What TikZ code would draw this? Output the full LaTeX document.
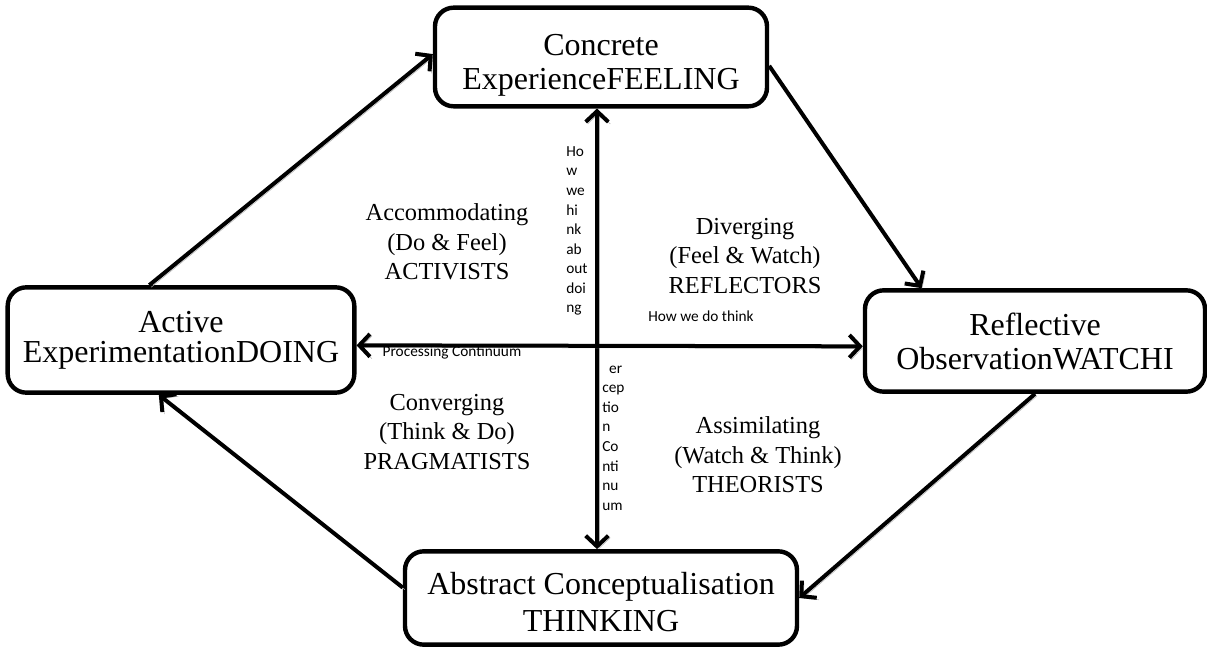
\documentclass[tikz,border=0pt]{standalone}
\usepackage{fontspec}
\setmainfont{Liberation Serif}
\newfontfamily\calfont{Carlito}
\usetikzlibrary{arrows.meta}

% box text: #1 lowering, #2 line spacing, #3 lines
\newcommand{\stagetext}[3]{\raisebox{-#1}[\height][\depth]{\fontsize{24}{#2}\selectfont\begin{tabular}{@{}c@{}}#3\end{tabular}}}

\tikzset{
  barb/.tip={Straight Barb[length=8pt,width=17pt,line width=3pt]},
  shady/.style={preaction={draw=gray!60, transform canvas={shift={(1.5pt,-1.5pt)}}}},
  stagebox/.style={draw, line width=3.3pt, rounded corners=14pt, inner sep=0pt},
  cyclearrow/.style={shady, line width=3pt, -barb},
  axisarrow/.style={shady, line width=3pt, barb-barb},
  stylelabel/.style={align=center, font=\fontsize{18.3}{22.2}\selectfont},
  smalltext/.style={font=\calfont\fontsize{11.5}{14.7}\selectfont, inner sep=0pt}
}

\begin{document}
\begin{tikzpicture}[x=0.75pt,y=0.75pt,yscale=-1]
\useasboundingbox (0,0) rectangle (1207,648);

% Stage boxes
\node [stagebox, minimum width=249pt, minimum height=74pt] (conc) at (601,57) {\stagetext{6.4pt}{26pt}{Concrete\\ExperienceFEELING}};
\node [stagebox, minimum width=260pt, minimum height=79pt] (act) at (181,340) {\stagetext{1.3pt}{22pt}{Active\\ExperimentationDOING}};
\node [stagebox, minimum width=255pt, minimum height=76pt] (refl) at (1035,341) {\stagetext{3.4pt}{26pt}{Reflective\\ObservationWATCHI}};
\node [stagebox, minimum width=294pt, minimum height=70pt] (abst) at (601,598) {\stagetext{6pt}{27.8pt}{Abstract Conceptualisation\\THINKING}};

% Cycle arrows
\draw [cyclearrow] (act.120) -- (conc.179);
\draw [cyclearrow] (conc.-3) -- (refl.155);
\draw [cyclearrow] (refl.south) -- (abst.east);
\draw [cyclearrow] (abst.177) -- (act.-112);

% Continuum axes
\draw [axisarrow] ([xshift=-3pt]conc.south) -- ([xshift=-3pt]abst.north);
\draw [axisarrow] ([yshift=4pt]act.east) -- ([yshift=4pt]refl.west);

% Learning style labels
\node [stylelabel] (accom) at (447,242) {Accommodating\\(Do \& Feel)\\ACTIVISTS};
\node [stylelabel] (diver) at (745,256) {Diverging\\(Feel \& Watch)\\REFLECTORS};
\node [stylelabel] (conv) at (447,432) {Converging\\(Think \& Do)\\PRAGMATISTS};
\node [stylelabel] (assim) at (758,455) {Assimilating\\(Watch \& Think)\\THEORISTS};

% Small text
\node [smalltext] (dothink) at (701,316) {How we do think};
\node [smalltext] (proc) at (452,353) {Processing Continuum};
\node [smalltext, align=left, anchor=west] (thinkdo) at (566,231) {Ho\\w\\we\\hi\\nk\\ab\\out\\doi\\ng};
\node [smalltext, align=left, anchor=west] (percep) at (602,438) {\ \ er\\cep\\tio\\n\\Co\\nti\\nu\\um};

\end{tikzpicture}
\end{document}
